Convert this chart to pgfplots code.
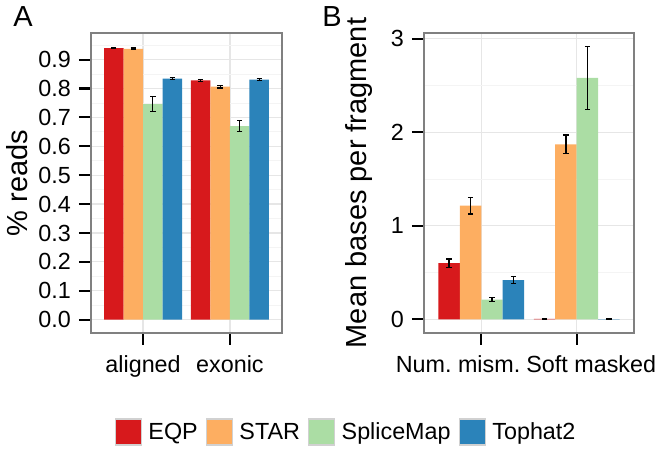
\documentclass[border=0pt]{standalone}
\usepackage{fontspec}
\setmainfont{Liberation Sans}
\usepackage{pgfplots}
\pgfplotsset{compat=1.18}
\frenchspacing
\definecolor{cEQP}{HTML}{D7191C}
\definecolor{cSTAR}{HTML}{FDAE61}
\definecolor{cSM}{HTML}{ABDDA4}
\definecolor{cTH}{HTML}{2B83BA}
\definecolor{gmaj}{HTML}{E6E6E6}
\definecolor{gmin}{HTML}{F4F4F4}
\newcommand{\tickfont}{\fontsize{17.5}{17.5}\selectfont}
\newcommand{\labfont}{\fontsize{21.75}{21.75}\selectfont}
\pgfplotsset{
  mybar/.style={ybar, bar width=0.225, bar shift=0pt, draw=none, fill=#1,
    error bars/y dir=both, error bars/y explicit,
    error bars/error bar style={black, line width=0.9pt},
    error bars/error mark options={rotate=90, mark size=2pt, black, line width=0.9pt},
    legend image code/.code={\filldraw[fill=#1, draw=black!18, line width=0.8pt] (0pt,-9.75pt) rectangle (19.5pt,9.75pt);}},
  common/.style={scale only axis, height=225pt,
    xmin=0.4, xmax=2.6, xtick={1,2},
    tick align=outside, tick pos=left, major tick length=9pt,
    major tick style={black, line width=1.6pt},
    minor tick length=0pt,
    axis line style={draw=black!50, line width=1pt},
    grid=both, major grid style={gmaj, line width=0.9pt},
    minor grid style={gmin, line width=0.6pt},
    xticklabel style={font=\tickfont, anchor=base, inner sep=0pt, yshift=-21pt},
    yticklabel style={font=\tickfont, anchor=east, inner sep=0pt, xshift=-6pt},
    ylabel style={font=\labfont},
  },
}
\begin{document}
\begin{tikzpicture}
\useasboundingbox (0,0) rectangle (495.75pt,339pt);
\begin{axis}[common, at={(68.25pt,89.25pt)}, anchor=south west, width=143.25pt,
  ymin=-0.046, ymax=0.992,
  ytick={0,0.1,0.2,0.3,0.4,0.5,0.6,0.7,0.8,0.9},
  yticklabels={0.0,0.1,0.2,0.3,0.4,0.5,0.6,0.7,0.8,0.9},
  minor ytick={0.05,0.15,0.25,0.35,0.45,0.55,0.65,0.75,0.85,0.95},
  xticklabels={aligned,exonic},
  ylabel={\% reads},
  every axis y label/.style={at={(axis description cs:-0.335,0.5)}, rotate=90, anchor=base, font=\labfont},
]
\addplot[mybar=cEQP] coordinates {(0.6625,0.940) +- (0,0.003) (1.6625,0.828) +- (0,0.004)};
\addplot[mybar=cSTAR] coordinates {(0.8875,0.937) +- (0,0.003) (1.8875,0.806) +- (0,0.004)};
\addplot[mybar=cSM] coordinates {(1.1125,0.746) +- (0,0.025) (2.1125,0.670) +- (0,0.019)};
\addplot[mybar=cTH] coordinates {(1.3375,0.834) +- (0,0.004) (2.3375,0.831) +- (0,0.004)};
\end{axis}
\begin{axis}[common, at={(318pt,89.25pt)}, anchor=south west, width=157.5pt,
  ymin=-0.146, ymax=3.06,
  ytick={0,1,2,3}, yticklabels={0,1,2,3},
  minor ytick={0.5,1.5,2.5},
  xticklabels={\kern-34.8pt Num.\ mism.,\kern21.8pt Soft masked},
  ylabel={Mean bases per fragment},
  every axis y label/.style={at={(axis description cs:-0.273,0.5)}, rotate=90, anchor=base, font=\labfont},
  legend columns=4,
  legend style={at={(axis description cs:-0.375,-0.33)}, anchor=center, draw=none, fill=none,
    font=\tickfont, nodes={inner sep=0pt},
    /tikz/every odd column/.append style={column sep=4.75pt},
    /tikz/every even column/.append style={column sep=6.25pt}},
]
\addplot[mybar=cEQP] coordinates {(0.6625,0.600) +- (0,0.045) (1.6625,0.005) +- (0,0.003)};
\addplot[mybar=cSTAR] coordinates {(0.8875,1.215) +- (0,0.090) (1.8875,1.870) +- (0,0.100)};
\addplot[mybar=cSM] coordinates {(1.1125,0.210) +- (0,0.020) (2.1125,2.580) +- (0,0.335)};
\addplot[mybar=cTH] coordinates {(1.3375,0.420) +- (0,0.040) (2.3375,0.002) +- (0,0.002)};
\legend{EQP,STAR,SpliceMap,Tophat2}
\end{axis}
\node[anchor=base west, font=\labfont, inner sep=0pt] at (9.75pt,318.75pt) {A};
\node[anchor=base west, font=\labfont, inner sep=0pt] at (241.5pt,318.75pt) {B};
\end{tikzpicture}
\end{document}
